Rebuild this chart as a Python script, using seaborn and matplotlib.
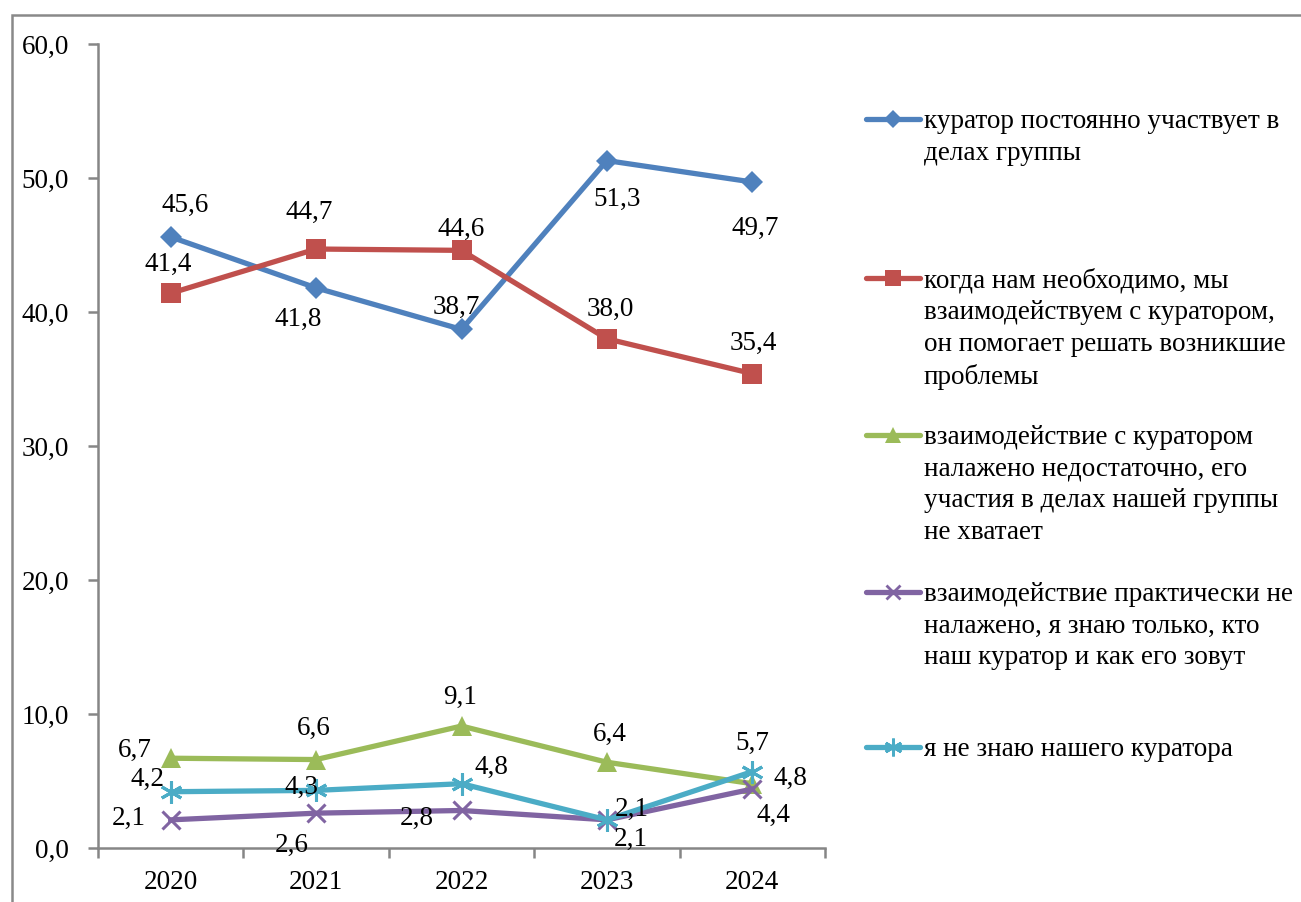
import numpy as np
import pandas as pd
import matplotlib
matplotlib.use("Agg")
import matplotlib.pyplot as plt
import seaborn as sns
from matplotlib.lines import Line2D
from matplotlib.patches import Rectangle
from matplotlib.ticker import FixedLocator, FuncFormatter

# =========================
# data
# =========================
years = ["2020", "2021", "2022", "2023", "2024"]

s_const = [45.6, 41.8, 38.7, 51.3, 49.7]
s_need = [41.4, 44.7, 44.6, 38.0, 35.4]
s_weak = [6.7, 6.6, 9.1, 6.4, 4.8]
s_none = [2.1, 2.6, 2.8, 2.1, 4.4]
s_unknown = [4.2, 4.3, 4.8, 2.1, 5.7]

labels = [
    "куратор постоянно участвует в\nделах группы",
    "когда нам необходимо, мы\nвзаимодействуем с куратором,\nон помогает решать возникшие\nпроблемы",
    "взаимодействие с куратором\nналажено недостаточно, его\nучастия в делах нашей группы\nне хватает",
    "взаимодействие практически не\nналажено, я знаю только, кто\nнаш куратор и как его зовут",
    "я не знаю нашего куратора",
]

series = [s_const, s_need, s_weak, s_none, s_unknown]

# =========================
# style
# =========================
colors = ["#4F81BD", "#C0504D", "#9BBB59", "#8064A2", "#4BACC6"]
markers = ["D", "s", "^", "x", (6, 2, 0)]
msizes = [11.5, 14, 15, 13, 16]

# label offsets (pixels) per point
offsets = [
    [(14, 32), (-18, -32), (-5, 22), (10, -39), (3, -46)],
    [(-3, 29), (-7, 37), (0, 21), (3, 29), (1, 30)],
    [(-36, 8), (-2, 31), (-1, 29), (3, 28), (38, 5)],
    [(-42, 1), (-24, -32), (-45, -8), (24, -20), (21, -26)],
    [(-23, 12), (-15, 3), (30, 16), (25, 10), (0, 28)],
]

W, H = 1301, 902
plt.rcParams["font.family"] = ["Liberation Serif", "DejaVu Serif"]
fs = 19.5

fig = plt.figure(figsize=(W / 100, H / 100), dpi=100)
ax = fig.add_axes([98 / W, 1 - 848 / H, (825 - 98) / W, (848 - 44) / H])

xpos = np.arange(len(years))
for i, vals in enumerate(series):
    df = pd.DataFrame({"x": xpos, "y": vals})
    sns.lineplot(data=df, x="x", y="y", ax=ax, color=colors[i], linewidth=3.8,
                 marker=markers[i], markersize=msizes[i],
                 markeredgewidth=2.2 if i >= 3 else 0,
                 markeredgecolor=colors[i], markerfacecolor=colors[i],
                 legend=False)
    for j, v in enumerate(vals):
        dx, dy = offsets[i][j]
        ax.annotate(f"{v:.1f}".replace(".", ","), (xpos[j], v),
                    xytext=(dx, dy), textcoords="offset pixels",
                    ha="center", va="center", fontsize=fs, color="black")

ax.set_xlim(-0.5, len(years) - 0.5)
ax.set_ylim(0, 60)
ax.set_xticks(xpos)
ax.set_xticklabels(years)
ax.xaxis.set_minor_locator(FixedLocator(np.arange(-0.5, len(years), 1)))
ax.tick_params(axis="x", which="major", length=0, pad=16, labelsize=fs)
ax.tick_params(axis="x", which="minor", length=7, width=1.8, color="#868686")
ax.set_yticks(np.arange(0, 61, 10))
ax.yaxis.set_major_formatter(FuncFormatter(lambda v, p: f"{v:.1f}".replace(".", ",")))
ax.tick_params(axis="y", length=7, width=1.8, color="#868686", pad=14, labelsize=fs)
ax.set_xlabel("")
ax.set_ylabel("")
for s in ["top", "right"]:
    ax.spines[s].set_visible(False)
for s in ["left", "bottom"]:
    ax.spines[s].set_color("#868686")
    ax.spines[s].set_linewidth(1.8)
ax.set_facecolor("white")

# legend drawn by hand
leg_y = [119, 278, 435, 592, 747]
for i, lab in enumerate(labels):
    yf = 1 - leg_y[i] / H
    fig.add_artist(Line2D([866 / W, 920 / W], [yf, yf], color=colors[i], linewidth=3.8,
                          solid_capstyle="round"))
    fig.add_artist(Line2D([893 / W], [yf], color=colors[i], marker=markers[i],
                          markersize=msizes[i] * 0.8,
                          markeredgewidth=2.0 if i >= 3 else 0,
                          markeredgecolor=colors[i], markerfacecolor=colors[i]))
    fig.text(924 / W, 1 - (leg_y[i] - 10) / H, lab, ha="left", va="top",
             fontsize=fs, linespacing=1.35)

# outer frame
fig.add_artist(Rectangle((12 / W, -0.1), 1.2, 1 - 15 / H + 0.1, transform=fig.transFigure,
                         fill=False, edgecolor="#898989", linewidth=1.8))

fig.savefig("out.png", dpi=100)
